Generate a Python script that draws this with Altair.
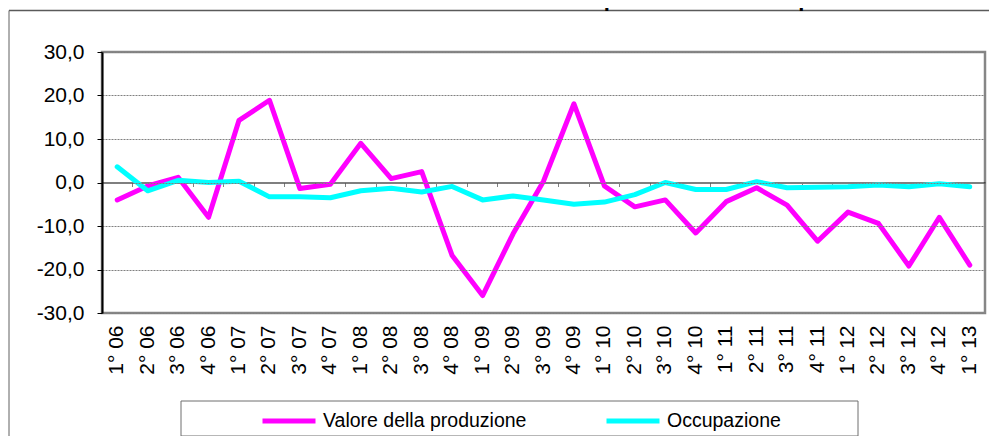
import altair as alt
import pandas as pd

categories = ["1° 06", "2° 06", "3° 06", "4° 06", "1° 07", "2° 07", "3° 07", "4° 07",
              "1° 08", "2° 08", "3° 08", "4° 08", "1° 09", "2° 09", "3° 09", "4° 09",
              "1° 10", "2° 10", "3° 10", "4° 10", "1° 11", "2° 11", "3° 11", "4° 11",
              "1° 12", "2° 12", "3° 12", "4° 12", "1° 13"]
valore = [-4.0, -0.8, 1.2, -8.0, 14.3, 18.9, -1.4, -0.4, 9.0, 0.9, 2.5, -16.8, -26.0,
          -11.8, 0.3, 18.1, -0.8, -5.6, -4.0, -11.6, -4.4, -1.2, -5.2, -13.5, -6.8,
          -9.4, -19.2, -8.0, -19.0]
occupazione = [3.6, -1.9, 0.5, 0.0, 0.3, -3.3, -3.3, -3.5, -1.9, -1.3, -2.2, -0.9, -4.0,
               -3.1, -4.0, -5.0, -4.5, -2.8, 0.0, -1.6, -1.6, 0.2, -1.2, -1.1, -1.0,
               -0.6, -1.0, -0.3, -1.0]
series_names = ["Valore della produzione", "Occupazione"]
series_colors = ["#FF00FF", "#00FFFF"]
y_ticks = [-30, -20, -10, 0, 10, 20, 30]
title_text = "Andamento della variazione tendenziale di valore della produzione e occupazione."

FONT = "Liberation Sans"
W, H = 883, 261

df = pd.DataFrame({
    "cat": categories * 2,
    "serie": [series_names[0]] * len(categories) + [series_names[1]] * len(categories),
    "val": valore + occupazione,
})
one = pd.DataFrame({"a": [0]})
cats_df = pd.DataFrame({"cat": categories})

x_scale = alt.Scale(type="band", paddingInner=0, paddingOuter=0)
y_scale = alt.Scale(domain=[-30, 30], nice=False, zero=False)
color_scale = alt.Scale(domain=series_names, range=series_colors)

x_axis = alt.Axis(title=None, labelAngle=-90, ticks=False, domain=False, grid=False,
                  labelPadding=12, labelFontSize=21, labelFont=FONT, labelColor="black")
y_axis = alt.Axis(title=None, values=y_ticks,
                  labelExpr="replace(replace(format(datum.value, '.1f'), '.', ','), '\u2212', '-')",
                  labelFontSize=21, labelFont=FONT, labelColor="black", labelPadding=13,
                  tickSize=5, tickColor="black", tickWidth=1,
                  domainColor="black", domainWidth=2,
                  grid=True, gridColor="#808080", gridDash=[2, 1], gridWidth=1, zindex=1)
legend = alt.Legend(title=None, orient="none", legendX=158, legendY=340, direction="horizontal",
                    columns=2, symbolType="stroke", symbolSize=2809, symbolStrokeWidth=5,
                    labelFontSize=19.5, labelFont=FONT, labelColor="black", labelLimit=400,
                    columnPadding=69, labelOffset=5, padding=0)


def line_layer(name):
    return alt.Chart(df).transform_filter(alt.datum.serie == name).mark_line(
        strokeWidth=5, strokeJoin="round", strokeCap="round"
    ).encode(
        x=alt.X("cat:N", sort=categories, scale=x_scale, axis=x_axis),
        y=alt.Y("val:Q", scale=y_scale, axis=y_axis),
        color=alt.Color("serie:N", scale=color_scale, legend=legend),
    )


border_top = alt.Chart(one).mark_rule(stroke="#5a5a5a", strokeWidth=1.3).encode(
    x=alt.value(-93), x2=alt.value(900), y=alt.value(-41.5))
border_left = alt.Chart(one).mark_rule(stroke="#606060", strokeWidth=1).encode(
    x=alt.value(-93), y=alt.value(-41.5), y2=alt.value(400))
title = alt.Chart(one).mark_text(font=FONT, fontSize=22, fontWeight="bold", align="left",
                                 baseline="alphabetic", color="black").encode(
    x=alt.value(-74), y=alt.value(-46.5), text=alt.value(title_text))
legend_box = alt.Chart(one).mark_rect(fill="white", stroke="#6e6e6e", strokeWidth=1).encode(
    x=alt.value(79), x2=alt.value(756), y=alt.value(349), y2=alt.value(384))

main = alt.layer(border_top, border_left, title, legend_box,
                 line_layer(series_names[0]), line_layer(series_names[1]))

zero_axis = alt.Chart(cats_df).mark_tick(opacity=0).encode(
    x=alt.X("cat:N", sort=categories, scale=x_scale,
            axis=alt.Axis(title=None, orient="bottom", offset=-H / 2, labels=False, grid=False,
                          bandPosition=0, tickSize=4, tickColor="#808080", tickWidth=1,
                          domain=True, domainColor="black", domainWidth=1.2))
)

chart = alt.layer(main, zero_axis).resolve_axis(x="independent").properties(
    width=W, height=H,
    autosize=alt.AutoSizeParams(type="none"),
    padding={"left": 94, "top": 44, "right": 4, "bottom": 123},
).configure(font=FONT).configure_view(stroke="#868686", strokeWidth=2.5)

chart.save("out.html", embed_options={"renderer": "svg", "actions": False})
